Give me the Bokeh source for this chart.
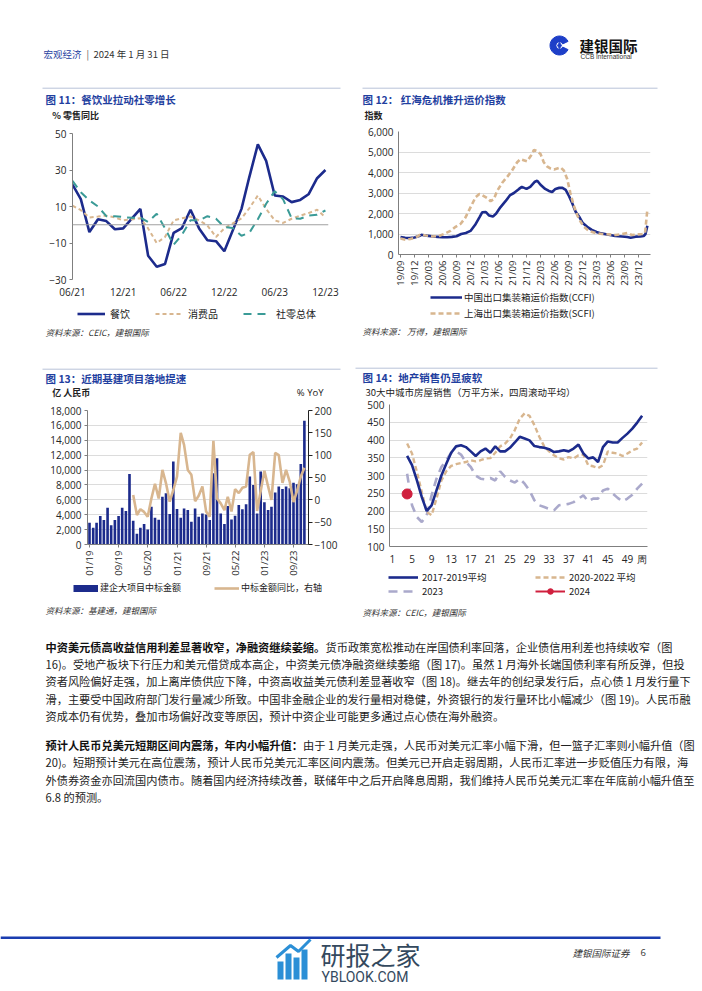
import math
import pandas as pd
from bokeh.plotting import figure
from bokeh.models import (Range1d, LinearAxis, FixedTicker, NumeralTickFormatter,
                          DatetimeTickFormatter, Legend, LegendItem, Label, Span)
from bokeh.layouts import column, row
from bokeh.embed import file_html
from bokeh.resources import INLINE

# ------------------------------------------------------------------ data
# Fig 11: % yoy (Jan merged into Jan-Feb for the first two series)
f11_months = ["2021-06", "2021-07", "2021-08", "2021-09", "2021-10", "2021-11", "2021-12",
              "2022-02", "2022-03", "2022-04", "2022-05", "2022-06", "2022-07", "2022-08",
              "2022-09", "2022-10", "2022-11", "2022-12", "2023-02", "2023-03", "2023-04",
              "2023-05", "2023-06", "2023-07", "2023-08", "2023-09", "2023-10", "2023-11",
              "2023-12"]
f11_catering = [22, 14, -4, 3, 2, -2.5, -2, 8.7, -17, -23, -21.5, -4.5, -1.8, 8.2,
                -2, -8.5, -9, -14.5, 8.7, 26, 44, 35, 16, 15.5, 12.4, 13.6, 16.7, 25.5, 30]
f11_goods = [10.5, 8, 4, 4.5, 5, 4, 2.4, 3.6, -2, -10, -6.7, 2.4, 3.6, 4.5,
             2.4, -0.4, -6.7, -2, 3.5, 9, 16, 8.7, 2.4, 1, 3.3, 5, 6.4, 8.2, 4]
f11_total_start = "2021-06"
f11_total = [24, 17.8, 13.3, 10, 4.7, 4.7, 4.2, 3.8, 4, 1.5, 6, -2, -11, -5.5, 2.4, 2.4,
             4.7, 3.3, -1.3, -1.8, -6, -4.5, 3, 11.5, 18.4, 14, 3.6, 3.3, 5, 5.5, 7.8]

# Fig 12: freight indices, time in months counted from 2019-09
f12_ccfi_t = [0, 1, 2, 3, 4, 4.5, 5, 6, 7, 8, 9, 10, 11, 12, 13, 14, 15, 16, 17, 17.5,
              18.3, 19, 19.8, 20.5, 21.4, 22.5, 23.5, 24.3, 25.4, 26, 27, 27.8, 28.8, 29.3,
              30, 31, 31.8, 32.5, 33.2, 34, 34.7, 35.4, 36, 36.8, 37.5, 38.4, 39, 40, 41,
              42, 43, 44.6, 46, 47.5, 48.6, 49.3, 50.4, 51.4, 52.1, 52.5, 52.9]
f12_ccfi = [850, 820, 800, 830, 900, 960, 940, 910, 880, 860, 840, 840, 860, 890, 1000,
            1050, 1150, 1450, 1850, 2060, 2070, 1900, 1850, 2000, 2300, 2600, 2900, 3000,
            3200, 3300, 3200, 3300, 3550, 3600, 3400, 3200, 3100, 3050, 3200, 3250, 3250,
            3150, 2900, 2500, 2100, 1800, 1550, 1350, 1200, 1100, 1030, 960, 900, 880, 850,
            820, 870, 880, 900, 1000, 1400]
f12_scfi_t = [0, 1.1, 2.1, 3.2, 4.3, 5.4, 6.8, 8.2, 9.3, 10.7, 11.8, 12.9, 13.9, 15, 16.1,
              16.9, 17.5, 18.6, 19.3, 20, 20.7, 21.8, 22.9, 23.9, 25, 25.7, 26.4, 27.1, 27.9,
              28.6, 29.3, 30, 30.7, 31.4, 32.1, 32.9, 33.6, 34.3, 35, 35.7, 36.4, 37.1, 37.9,
              38.6, 39.3, 40.4, 41.8, 43.2, 44.6, 46.1, 47.5, 48.6, 49.6, 50.7, 51.8, 52.4, 52.9]
f12_scfi = [780, 720, 760, 820, 980, 930, 880, 900, 1000, 1150, 1350, 1500, 1800, 2300, 2800,
            2950, 2900, 2750, 2600, 2700, 3100, 3500, 3800, 4100, 4500, 4650, 4600, 4550, 4800,
            5100, 5050, 4900, 4500, 4300, 4200, 4150, 4200, 4250, 4100, 3700, 3000, 2400, 1900,
            1600, 1350, 1150, 1050, 1000, 980, 950, 1000, 1050, 950, 980, 1000, 1050, 2200]
f12_start = "2019-09-01"

# Fig 13: monthly 2019-01 .. 2023-12
f13_start = "2019-01"
f13_bars = [2920, 2250, 2920, 3820, 3280, 4940, 2600, 3280, 3820, 4940,
            4490, 9480, 3190, 1440, 2250, 2740, 2020, 5080, 3600, 3330,
            6430, 6880, 4090, 11150, 4760, 3600, 4850, 4630, 3060, 4850,
            3730, 4180, 4040, 3280, 9570, 11600, 4180, 2740, 5170, 3370,
            3870, 5300, 4720, 5390, 9120, 8000, 4180, 9800, 5660, 4630,
            5080, 6970, 7780, 7460, 7780, 7550, 8310, 8090, 10830, 16630]
f13_yoy_start = "2020-01"
f13_yoy = [11, -34, -21, -27, -38, 3, 36, 3, 67, 37,
           -4, 22, 52, 150, 123, 67, 56, -3, 9, 30,
           -26, -38, 132, 3, -8, -23, 7, -26, 24, 15,
           27, 30, 101, 107, -25, 20, 65, 30, 0, 105,
           100, 38, 67, 40, -5, 20, 52, 72]

# Fig 14: weekly, weeks 4..52
f14_weeks = list(range(4, 53))
f14_avg1719 = [355, 329, 286, 239, 200, 216, 258, 300, 333, 364, 382, 385, 380, 368, 355,
               368, 376, 364, 382, 368, 368, 378, 393, 409, 404, 399, 383, 380, 378, 374,
               366, 368, 371, 368, 376, 387, 362, 348, 351, 338, 380, 396, 393, 393, 406,
               418, 432, 449, 468]
f14_avg2022 = [390, 362, 310, 253, 197, 188, 235, 286, 312, 327, 332, 335, 338, 343, 340,
               343, 348, 349, 364, 382, 390, 404, 428, 460, 475, 468, 442, 409, 382, 368,
               357, 349, 345, 352, 348, 357, 359, 329, 326, 321, 329, 368, 364, 362, 355,
               362, 371, 376, 393]
f14_y2023 = [305, 216, 183, 169, 188, 244, 291, 324, 343, 364, 368, 359, 338, 324, 300,
             291, 289, 293, 286, 312, 296, 286, 280, 291, 277, 258, 230, 216, 211, 206,
             202, 216, 218, 220, 225, 235, 244, 227, 235, 235, 258, 263, 249, 237, 227,
             235, 246, 263, 277]
f14_2024_weeks = [4]
f14_y2024 = [248]
f14_tick_weeks = [1, 5, 9, 13, 17, 21, 25, 29, 33, 37, 41, 45, 49]

# ------------------------------------------------------------------ styles
CJK = "Noto Sans CJK SC"
NUM = "Open Sans"
NAVY = "#1c2b8c"
TAN = "#d8b68f"
TEAL = "#3b9b97"
LAV = "#aaa9cb"
RED = "#d0203e"
TITLE_BLUE = "#1f3f9f"
GRID = "#dcdcdc"
AXIS = "#7f7f7f"
TXT = "#222222"
RULE = "#b8c2d8"
MONTH = 30.4375  # days
NAN = float("nan")


def ms(ts):
    return pd.Timestamp(ts).value / 1e6


def month_shift(start, m):
    return pd.Timestamp(start) + pd.Timedelta(days=m * MONTH)


def dt_fmt(fmt):
    return DatetimeTickFormatter(microseconds=fmt, milliseconds=fmt, seconds=fmt, minsec=fmt,
                                 minutes=fmt, hourmin=fmt, hours=fmt, days=fmt, months=fmt,
                                 years=fmt)


def text_fig(w, h):
    p = figure(width=w, height=h, x_range=Range1d(0, w), y_range=Range1d(h, 0),
               x_axis_location=None, y_axis_location=None, toolbar_location=None,
               tools="", output_backend="svg", min_border=0, outline_line_color=None,
               background_fill_color="white", border_fill_color="white", title=None)
    p.grid.visible = False
    return p


def strip(x0, y0, w, h):
    return (text_fig(w, h), x0, y0, h)


def T(s, px, py, text, size, color=TXT, bold=False, italic=False, font=CJK,
      align="left"):
    p, x0, y0, _ = s
    style = "normal"
    if bold and italic:
        style = "bold italic"
    elif bold:
        style = "bold"
    elif italic:
        style = "italic"
    p.add_layout(Label(x=px - x0, y=py - y0, text=text, text_font=font,
                       text_font_size=f"{size}px", text_color=color,
                       text_font_style=style, text_align=align, text_baseline="middle"))


def rule(s, px0, px1, py, color=RULE, width=1):
    p, x0, y0, _ = s
    p.line([px0 - x0, px1 - x0], [py - y0, py - y0], line_color=color, line_width=width)


def proxy_line(s, **kw):
    return s[0].line(x=[NAN], y=[NAN], **kw)


def strip_legend(s, items, px, py_top, total_h, orientation="vertical", gw=28, gh=14,
                 spacing=0, standoff=4, size="9.5px"):
    p, x0, y0, h = s
    vy = h - (py_top - y0) - total_h
    leg = Legend(items=items, location=(px - x0, vy), orientation=orientation,
                 glyph_width=gw, glyph_height=gh, label_height=gh, spacing=spacing,
                 label_standoff=standoff, padding=0, margin=0, border_line_color=None,
                 background_fill_alpha=0, label_text_font=CJK, label_text_font_size=size,
                 label_text_color=TXT)
    p.add_layout(leg, "center")


def chart_fig(xr, yr, left, fw, right, top, fh, bottom, x_type="linear"):
    p = figure(frame_width=fw, frame_height=fh, x_range=xr, y_range=yr,
               toolbar_location=None, tools="", output_backend="svg", title=None,
               x_axis_type=x_type, min_border_left=left, min_border_right=right,
               min_border_top=top, min_border_bottom=bottom, outline_line_color=None,
               background_fill_color="white", border_fill_color="white")
    p.xgrid.visible = False
    return p


def style_axis(ax, line_color=AXIS, tick_out=3, standoff=3, size="10px"):
    ax.axis_line_color = line_color
    ax.major_tick_line_color = line_color
    ax.major_tick_out = tick_out
    ax.major_tick_in = 0
    ax.minor_tick_line_color = None
    ax.major_label_text_font = NUM
    ax.major_label_text_font_size = size
    ax.major_label_text_color = "#262626"
    ax.major_label_standoff = standoff


# ------------------------------------------------------------------ header (y 0-84)
hdr = strip(0, 0, 700, 84)
T(hdr, 43, 53, "宏观经济", 9.5, color=TITLE_BLUE)
T(hdr, 86, 53, "|", 9.5, color="#555555")
T(hdr, 93, 53, "2024 年 1 月 31 日", 9.5, color="#333333")
hdr[0].annular_wedge(x=[559], y=[45], inner_radius=3.6, outer_radius=9.5,
                     start_angle=0.45, end_angle=2 * math.pi - 0.45, color="#1e3fc8")
hdr[0].scatter(x=[559], y=[45], marker="diamond", size=6, color="#1e3fc8")
T(hdr, 579, 45, "建银国际", 14.5, color="#111111", bold=True)
T(hdr, 580, 55.5, "CCB International", 6.5, color="#333333", font="Liberation Sans")

# ================================================================== LEFT COLUMN (x 0-352)
sAL = strip(0, 84, 352, 37)
rule(sAL, 42, 340, 87.7)
T(sAL, 45, 99, "图 11：餐饮业拉动社零增长", 10.5, color=TITLE_BLUE, bold=True)
T(sAL, 51.7, 115, "% 零售同比", 9, bold=True)

# fig 11 (y 121-300)
x11_start = pd.Timestamp("2021-06-01")
p11 = chart_fig(Range1d(x11_start, month_shift(x11_start, 30.36)), Range1d(-30, 50),
                72, 256, 24, 12, 146, 21, x_type="datetime")
p11.ygrid.visible = False
p11.add_layout(Span(location=0, dimension="width", line_color="#a0a0a0", line_width=1))
x11 = pd.to_datetime(f11_months)
x11_total = pd.date_range(f11_total_start, periods=len(f11_total), freq="MS")
r11a = p11.line(x11, f11_catering, line_color=NAVY, line_width=2.6)
r11b = p11.line(x11, f11_goods, line_color=TAN, line_width=2, line_dash="4 3")
r11c = p11.line(x11_total, f11_total, line_color=TEAL, line_width=2, line_dash="8 6")
p11.yaxis.ticker = FixedTicker(ticks=[-30, -10, 10, 30, 50])
style_axis(p11.yaxis[0])
p11.xaxis.ticker = FixedTicker(ticks=[ms(t) for t in pd.date_range("2021-06-01", periods=6, freq="6MS")])
p11.xaxis.formatter = dt_fmt("%m/%y")
style_axis(p11.xaxis[0], line_color=None, tick_out=0, standoff=5)

sML = strip(0, 300, 352, 97)
pa = proxy_line(sML, line_color=NAVY, line_width=2.6)
pb = proxy_line(sML, line_color=TAN, line_width=2, line_dash="4 3")
pc = proxy_line(sML, line_color=TEAL, line_width=2, line_dash="8 6")
strip_legend(sML, [LegendItem(label="餐饮", renderers=[pa]),
                   LegendItem(label="消费品", renderers=[pb]),
                   LegendItem(label="社零总体", renderers=[pc])],
             77, 304.8, 15, orientation="horizontal", gw=28, gh=15, spacing=25,
             standoff=5, size="10px")
T(sML, 45, 330, "资料来源：CEIC，建银国际", 8.5, color="#333333", italic=True)
rule(sML, 42, 340, 367.7)
T(sML, 45, 377, "图 13：近期基建项目落地提速", 10.5, color=TITLE_BLUE, bold=True)
T(sML, 51.7, 391, "亿 人民币", 9, bold=True)
T(sML, 323, 391, "% YoY", 9.5, font=NUM, align="right")

# fig 13 (y 397-578)
x13 = pd.date_range(f13_start + "-01", periods=len(f13_bars), freq="MS")
x13_yoy = pd.date_range(f13_yoy_start + "-01", periods=len(f13_yoy), freq="MS")
p13 = chart_fig(Range1d(month_shift(x13[0], -0.55), month_shift(x13[0], 60.1)),
                Range1d(0, 18000), 87, 221, 44, 12, 134, 35, x_type="datetime")
p13.extra_y_ranges = {"yoy": Range1d(-100, 200)}
p13.ygrid.grid_line_color = GRID
r13a = p13.vbar(x=x13, top=f13_bars, width=0.72 * MONTH * 86400000, fill_color=NAVY,
                line_color=None)
r13b = p13.line(x13_yoy, f13_yoy, y_range_name="yoy", line_color=TAN, line_width=2.6)
p13.yaxis.ticker = FixedTicker(ticks=[2000 * i for i in range(10)])
p13.yaxis.formatter = NumeralTickFormatter(format="0,0")
style_axis(p13.yaxis[0], tick_out=3, standoff=3)
yr13 = LinearAxis(y_range_name="yoy", ticker=FixedTicker(ticks=[-100, -50, 0, 50, 100, 150, 200]))
style_axis(yr13, line_color="#222222", tick_out=4, standoff=2)
p13.add_layout(yr13, "right")
p13.xaxis.ticker = FixedTicker(ticks=[ms(t) for t in pd.date_range(x13[0], periods=8, freq="8MS")])
p13.xaxis.formatter = dt_fmt("%m/%y")
p13.xaxis.major_label_orientation = math.pi / 2
style_axis(p13.xaxis[0], tick_out=3, standoff=3, size="9.5px")

sBL = strip(0, 578, 352, 42)
pd1 = proxy_line(sBL, line_color=NAVY, line_width=7, line_cap="butt")
pd2 = proxy_line(sBL, line_color=TAN, line_width=2.6)
strip_legend(sBL, [LegendItem(label="建企大项目中标金额", renderers=[pd1]),
                   LegendItem(label="中标金额同比，右轴", renderers=[pd2])],
             73, 579.7, 14, orientation="horizontal", gw=25, gh=14, spacing=33,
             standoff=2, size="9px")
T(sBL, 45, 608, "资料来源：基建通，建银国际", 8.5, color="#333333", italic=True)

left_col = column(sAL[0], row(p11), sML[0], row(p13), sBL[0])

# ================================================================== RIGHT COLUMN (x 352-700)
sAR = strip(352, 84, 348, 38)
rule(sAR, 362, 657, 87.7)
T(sAR, 362, 98.5, "图 12：  红海危机推升运价指数", 10.5, color=TITLE_BLUE, bold=True)
T(sAR, 364, 114.5, "指数", 9, bold=True)

# fig 12 (y 122-289)
x12_0 = pd.Timestamp(f12_start)
p12 = chart_fig(Range1d(month_shift(x12_0, -0.43), month_shift(x12_0, 53.57)),
                Range1d(0, 6000), 46, 252, 50, 9, 123, 35, x_type="datetime")
p12.ygrid.grid_line_color = GRID
r12a = p12.line([month_shift(x12_0, t) for t in f12_ccfi_t], f12_ccfi,
                line_color=NAVY, line_width=2.6)
r12b = p12.line([month_shift(x12_0, t) for t in f12_scfi_t], f12_scfi,
                line_color=TAN, line_width=2.6, line_dash="5 3")
p12.yaxis.ticker = FixedTicker(ticks=[0, 1000, 2000, 3000, 4000, 5000, 6000])
p12.yaxis.formatter = NumeralTickFormatter(format="0,0")
style_axis(p12.yaxis[0], tick_out=0, standoff=5)
p12.xaxis.ticker = FixedTicker(ticks=[ms(t) for t in pd.date_range(x12_0, periods=18, freq="3MS")])
p12.xaxis.formatter = dt_fmt("%y/%m")
p12.xaxis.major_label_orientation = math.pi / 2
style_axis(p12.xaxis[0], tick_out=3, standoff=3, size="9.5px")

sMR = strip(352, 289, 348, 108)
pe = proxy_line(sMR, line_color=NAVY, line_width=2.6)
pf = proxy_line(sMR, line_color=TAN, line_width=2.6, line_dash="5 3")
strip_legend(sMR, [LegendItem(label="中国出口集装箱运价指数(CCFI)", renderers=[pe]),
                   LegendItem(label="上海出口集装箱运价指数(SCFI)", renderers=[pf])],
             430, 290, 30, gw=32, gh=14, spacing=2, standoff=2, size="9.5px")
T(sMR, 362, 330, "资料来源：  万得，建银国际", 8.5, color="#333333", italic=True)
rule(sMR, 355, 657, 367.7)
T(sMR, 362, 377, "图 14：地产销售仍显疲软", 10.5, color=TITLE_BLUE, bold=True)
T(sMR, 365, 391, "30大中城市房屋销售（万平方米，四周滚动平均）", 9.5)

# fig 14 (y 397-565)
p14 = chart_fig(Range1d(0.4, 53.1), Range1d(100, 500), 37, 258, 53, 7, 142, 19)
p14.ygrid.grid_line_color = GRID
r14c = p14.line(f14_weeks, f14_y2023, line_color=LAV, line_width=2.6, line_dash="9 6")
r14b = p14.line(f14_weeks, f14_avg2022, line_color=TAN, line_width=2.4, line_dash="5 3")
r14a = p14.line(f14_weeks, f14_avg1719, line_color=NAVY, line_width=2.6)
r14d = p14.line(f14_2024_weeks, f14_y2024, line_color=RED, line_width=2)
r14e = p14.scatter(f14_2024_weeks, f14_y2024, size=10, fill_color=RED, line_color=RED)
p14.yaxis.ticker = FixedTicker(ticks=[100 + 50 * i for i in range(9)])
style_axis(p14.yaxis[0], tick_out=0, standoff=5)
p14.xaxis.ticker = FixedTicker(ticks=f14_tick_weeks + [52])
p14.xaxis.major_label_overrides = {52: "周"}
style_axis(p14.xaxis[0], tick_out=0, standoff=5)

sBR = strip(352, 565, 348, 55)
pg = proxy_line(sBR, line_color=NAVY, line_width=2.6)
ph = proxy_line(sBR, line_color=LAV, line_width=2.6, line_dash="9 6")
pi_ = proxy_line(sBR, line_color=TAN, line_width=2.4, line_dash="5 3")
pj = proxy_line(sBR, line_color=RED, line_width=2)
pk = sBR[0].scatter(x=[NAN], y=[NAN], size=8, fill_color=RED, line_color=RED)
strip_legend(sBR, [LegendItem(label="2017-2019平均", renderers=[pg]),
                   LegendItem(label="2023", renderers=[ph])],
             388, 567, 28, gw=30, gh=14, standoff=4, size="9.5px")
strip_legend(sBR, [LegendItem(label="2020-2022 平均", renderers=[pi_]),
                   LegendItem(label="2024", renderers=[pj, pk])],
             535, 567, 28, gw=30, gh=14, standoff=4, size="9.5px")
T(sBR, 362, 608, "资料来源：CEIC，建银国际", 8.5, color="#333333", italic=True)

right_col = column(sAR[0], row(p12), sMR[0], row(p14), sBR[0])

# ================================================================== TEXT (y 620-920)
tx = strip(0, 620, 700, 300)
FS = 11.2
para1 = [
    ("中资美元债高收益信用利差显著收窄，净融资继续萎缩。",
     "货币政策宽松推动在岸国债利率回落，企业债信用利差也持续收窄（图"),
    ("", "16)。受地产板块下行压力和美元借贷成本高企，中资美元债净融资继续萎缩（图 17)。虽然 1 月海外长端国债利率有所反弹，但投"),
    ("", "资者风险偏好走强，加上离岸债供应下降，中资高收益美元债利差显著收窄（图 18)。继去年的创纪录发行后，点心债 1 月发行量下"),
    ("", "滑，主要受中国政府部门发行量减少所致。中国非金融企业的发行量相对稳健，外资银行的发行量环比小幅减少（图 19)。人民币融"),
    ("", "资成本仍有优势，叠加市场偏好改变等原因，预计中资企业可能更多通过点心债在海外融资。"),
]
para2 = [
    ("预计人民币兑美元短期区间内震荡，年内小幅升值：",
     "由于 1 月美元走强，人民币对美元汇率小幅下滑，但一篮子汇率则小幅升值（图"),
    ("", "20)。短期预计美元在高位震荡，预计人民币兑美元汇率区间内震荡。但美元已开启走弱周期，人民币汇率进一步贬值压力有限，海"),
    ("", "外债券资金亦回流国内债市。随着国内经济持续改善，联储年中之后开启降息周期，我们维持人民币兑美元汇率在年底前小幅升值至"),
    ("", "6.8 的预测。"),
]
for block, y0 in ((para1, 643), (para2, 741.5)):
    for i, (b, r) in enumerate(block):
        y = y0 + 17.4 * i
        x = 45
        if b:
            T(tx, x, y, b, FS, color="#111111", bold=True)
            x += len(b) * FS
        T(tx, x, y, r, FS)

# ================================================================== FOOTER (y 920-990)
ft = strip(0, 920, 700, 70)
rule(ft, 0, 660, 934.3, color="#1a3db0", width=2.5)
T(ft, 572, 949, "建银国际证券", 9.5, color="#333333", italic=True)
T(ft, 640, 949, "6", 9.5, color="#333333", font=NUM)
fy = 920
ft[0].quad(left=[277, 285, 293, 301], right=[283, 291, 299, 307],
           top=[958 - fy, 950 - fy, 954 - fy, 946 - fy], bottom=[976 - fy] * 4,
           fill_color="#2b8fd6", line_color=None)
ft[0].line([276, 290, 298, 310], [954 - fy, 942 - fy, 948 - fy, 936 - fy],
           line_color="#2b8fd6", line_width=3)
T(ft, 320, 950, "研报之家", 25, color="#34495e")
T(ft, 321, 973, "YBLOOK.COM", 14, color="#34495e", font="Roboto")

page = column(hdr[0], row(left_col, right_col), tx[0], ft[0])
open("out.html", "w").write(file_html(page, INLINE))
